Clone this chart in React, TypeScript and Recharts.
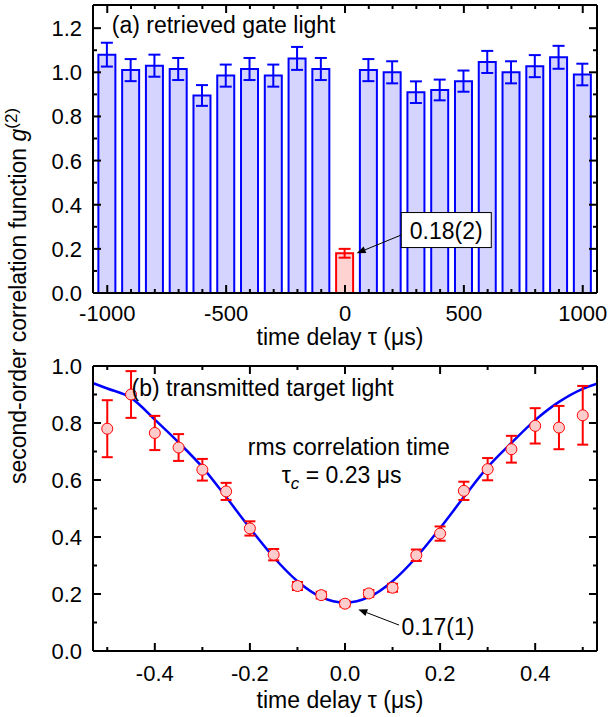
import React from 'react';
import {
  Bar,
  Cell,
  ComposedChart,
  ErrorBar,
  Line,
  ReferenceDot,
  ReferenceLine,
  Scatter,
  XAxis,
  YAxis,
} from 'recharts';

const FONT = '"Liberation Sans", Arial, sans-serif';
const BLUE = '#0000ff';
const RED = '#ff0000';

// (a) retrieved gate light
const gateDelays = [-1000, -900, -800, -700, -600, -500, -400, -300, -200, -100, 0, 100, 200, 300, 400, 500, 600, 700, 800, 900, 1000];
const gateG = [1.08, 1.01, 1.03, 1.015, 0.895, 0.985, 1.015, 0.985, 1.063, 1.015, 0.18, 1.01, 1.0, 0.91, 0.92, 0.96, 1.047, 1.0, 1.028, 1.068, 0.99];
const gateErr = [0.054, 0.05, 0.05, 0.05, 0.047, 0.05, 0.05, 0.05, 0.052, 0.05, 0.02, 0.05, 0.05, 0.049, 0.047, 0.048, 0.05, 0.05, 0.05, 0.052, 0.049];

// (b) transmitted target light
const targetTau = [-0.5, -0.45, -0.4, -0.35, -0.3, -0.25, -0.2, -0.15, -0.1, -0.05, 0, 0.05, 0.1, 0.15, 0.2, 0.25, 0.3, 0.35, 0.4, 0.45, 0.5];
const targetG = [0.78, 0.9, 0.765, 0.714, 0.636, 0.56, 0.43, 0.338, 0.228, 0.196, 0.166, 0.202, 0.222, 0.336, 0.412, 0.562, 0.638, 0.708, 0.79, 0.784, 0.827];
const targetErr = [0.1, 0.082, 0.06, 0.047, 0.038, 0.03, 0.025, 0.02, 0.014, 0.012, 0.01, 0.012, 0.014, 0.02, 0.025, 0.032, 0.039, 0.047, 0.062, 0.076, 0.103];

// fitted curve
const fitTau = [-0.53, -0.5, -0.45, -0.4, -0.35, -0.3, -0.25, -0.2, -0.15, -0.1, -0.05, 0, 0.05, 0.1, 0.15, 0.2, 0.25, 0.3, 0.35, 0.4, 0.45, 0.5, 0.53];
const fitG = [0.94, 0.921, 0.888, 0.812, 0.732, 0.645, 0.54, 0.431, 0.329, 0.245, 0.189, 0.17, 0.189, 0.245, 0.329, 0.431, 0.54, 0.645, 0.73, 0.81, 0.874, 0.92, 0.938];

// ticks
const gateXTicks = [-1000, -900, -800, -700, -600, -500, -400, -300, -200, -100, 0, 100, 200, 300, 400, 500, 600, 700, 800, 900, 1000];
const gateXLabels = [-1000, -500, 0, 500, 1000];
const gateYTicks = [0, 0.1, 0.2, 0.3, 0.4, 0.5, 0.6, 0.7, 0.8, 0.9, 1.0, 1.1, 1.2];
const gateYLabels = [0, 0.2, 0.4, 0.6, 0.8, 1.0, 1.2];
const targetXTicks = [-0.5, -0.4, -0.3, -0.2, -0.1, 0, 0.1, 0.2, 0.3, 0.4, 0.5];
const targetXLabels = [-0.4, -0.2, 0, 0.2, 0.4];
const targetYTicks = [0, 0.1, 0.2, 0.3, 0.4, 0.5, 0.6, 0.7, 0.8, 0.9, 1.0];
const targetYLabels = [0, 0.2, 0.4, 0.6, 0.8, 1.0];

const gateData = gateDelays.map((d, i) => ({
  delay: d,
  g: gateG[i],
  errBlue: d === 0 ? undefined : gateErr[i],
  errRed: d === 0 ? gateErr[i] : undefined,
}));
const targetData = targetTau.map((t, i) => ({ tau: t, g: targetG[i], err: targetErr[i] }));
const fitData = fitTau.map((t, i) => ({ tau: t, g: fitG[i] }));

type Side = 'bottom' | 'top' | 'left' | 'right';

const tickFor = (side: Side, labels: number[], fmt?: (v: number) => string, gap = 0) => (props: any) => {
  const { x, y, payload } = props;
  const v = Number(payload.value);
  const major = labels.some((l) => Math.abs(l - v) < 1e-6);
  const len = major ? 8 : 4;
  let x2 = x;
  let y2 = y;
  if (side === 'bottom') y2 = y - len;
  if (side === 'top') y2 = y + len;
  if (side === 'left') x2 = x + len;
  if (side === 'right') x2 = x - len;
  return (
    <g>
      <line x1={x} y1={y} x2={x2} y2={y2} stroke="#000" strokeWidth={2} />
      {major && fmt && side === 'bottom' && (
        <text x={x} y={y + gap} textAnchor="middle" fontSize={22} fontFamily={FONT} fill="#000">
          {fmt(v)}
        </text>
      )}
      {major && fmt && side === 'left' && (
        <text x={x - gap} y={y} dy="0.36em" textAnchor="end" fontSize={22} fontFamily={FONT} fill="#000">
          {fmt(v)}
        </text>
      )}
    </g>
  );
};

const Arrow = (p: any) => {
  const { x1, y1, x2, y2 } = p;
  const a = Math.atan2(y2 - y1, x2 - x1);
  const L = 9;
  const W = 3.5;
  const bx = x2 - L * Math.cos(a);
  const by = y2 - L * Math.sin(a);
  const pts = `${x2},${y2} ${bx + W * Math.sin(a)},${by - W * Math.cos(a)} ${bx - W * Math.sin(a)},${by + W * Math.cos(a)}`;
  return (
    <g>
      <line x1={x1} y1={y1} x2={bx} y2={by} stroke="#000" strokeWidth={1} />
      <polygon points={pts} fill="#000" />
    </g>
  );
};

const note = (content: React.ReactNode, anchor: 'start' | 'middle' = 'start') => (p: any) => (
  <text x={p.cx} y={p.cy} textAnchor={anchor} fontSize={23} fontFamily={FONT} fill="#000">
    {content}
  </text>
);

// boxed value label, centred on the point
const boxedNote = (content: string) => (p: any) => (
  <g>
    <rect x={p.cx - 45} y={p.cy - 18} width={90} height={35} fill="#fff" stroke="#000" strokeWidth={1} />
    <text x={p.cx} y={p.cy} dy="0.36em" textAnchor="middle" fontSize={23} fontFamily={FONT} fill="#000">
      {content}
    </text>
  </g>
);

const Dot = (p: any) => <circle cx={p.cx} cy={p.cy} r={5.5} fill="#ffcccc" stroke={RED} strokeWidth={1} />;

const frame = { stroke: '#000', strokeWidth: 2 };

const App = () => {
  return (
    <div style={{ position: 'absolute', left: 0, top: 0, width: 608, height: 717, background: '#fff' }}>
      <div style={{ position: 'absolute', left: 0, top: 0 }}>
        <ComposedChart width={608} height={340} data={gateData} margin={{ top: 4, right: 10, bottom: 46, left: 92 }}>
          <XAxis dataKey="delay" type="number" domain={[-1060, 1060]} allowDataOverflow ticks={gateXTicks} interval={0}
            height={1} tickSize={0} tickMargin={0} tickLine={false} axisLine={frame}
            tick={tickFor('bottom', gateXLabels, (v) => String(v), 28)} />
          <XAxis xAxisId="top" orientation="top" dataKey="delay" type="number" domain={[-1060, 1060]} allowDataOverflow
            ticks={gateXTicks} interval={0} height={1} tickSize={0} tickMargin={0} tickLine={false} axisLine={frame}
            tick={tickFor('top', gateXLabels)} />
          <YAxis type="number" domain={[0, 1.305]} allowDataOverflow ticks={gateYTicks} interval={0} width={1}
            tickSize={0} tickMargin={0} tickLine={false} axisLine={frame}
            tick={tickFor('left', gateYLabels, (v) => v.toFixed(1), 11)} />
          <YAxis yAxisId="right" orientation="right" type="number" domain={[0, 1.305]} allowDataOverflow ticks={gateYTicks}
            interval={0} width={1} tickSize={0} tickMargin={0} tickLine={false} axisLine={frame}
            tick={tickFor('right', gateYLabels)} />
          <Bar dataKey="g" barSize={17} strokeWidth={2} isAnimationActive={false}>
            {gateData.map((d) => (
              <Cell key={d.delay} fill={d.delay === 0 ? '#ffd2d2' : '#d4d4ff'} stroke={d.delay === 0 ? RED : BLUE} />
            ))}
            <ErrorBar dataKey="errBlue" width={6} stroke={BLUE} strokeWidth={2} />
            <ErrorBar dataKey="errRed" width={6} stroke={RED} strokeWidth={2} />
          </Bar>
          <ReferenceLine segment={[{ x: 237, y: 0.263 }, { x: 49, y: 0.18 }]} shape={Arrow} />
          <ReferenceDot x={426} y={0.283} r={0} shape={boxedNote('0.18(2)')} />
          <ReferenceDot x={-981} y={1.178} r={0} shape={note('(a) retrieved gate light')} />
        </ComposedChart>
      </div>
      <div style={{ position: 'absolute', left: 0, top: 340 }}>
        <ComposedChart width={608} height={377} data={fitData} margin={{ top: 25, right: 10, bottom: 65, left: 92 }}>
          <XAxis dataKey="tau" type="number" domain={[-0.53, 0.53]} allowDataOverflow ticks={targetXTicks} interval={0}
            height={1} tickSize={0} tickMargin={0} tickLine={false} axisLine={frame}
            tick={tickFor('bottom', targetXLabels, (v) => v.toFixed(1), 30)} />
          <XAxis xAxisId="top" orientation="top" dataKey="tau" type="number" domain={[-0.53, 0.53]} allowDataOverflow
            ticks={targetXTicks} interval={0} height={1} tickSize={0} tickMargin={0} tickLine={false} axisLine={frame}
            tick={tickFor('top', targetXLabels)} />
          <YAxis type="number" domain={[0, 1]} allowDataOverflow ticks={targetYTicks} interval={0} width={1}
            tickSize={0} tickMargin={0} tickLine={false} axisLine={frame}
            tick={tickFor('left', targetYLabels, (v) => v.toFixed(1), 11)} />
          <YAxis yAxisId="right" orientation="right" type="number" domain={[0, 1]} allowDataOverflow ticks={targetYTicks}
            interval={0} width={1} tickSize={0} tickMargin={0} tickLine={false} axisLine={frame}
            tick={tickFor('right', targetYLabels)} />
          <Line dataKey="g" type="monotone" stroke={BLUE} strokeWidth={2.5} dot={false} isAnimationActive={false} />
          <Scatter data={targetData} dataKey="g" shape={Dot} isAnimationActive={false}>
            <ErrorBar dataKey="err" direction="y" width={5.5} stroke={RED} strokeWidth={2} />
          </Scatter>
          <ReferenceLine segment={[{ x: 0.1136, y: 0.091 }, { x: 0.028, y: 0.146 }]} shape={Arrow} />
          <ReferenceDot x={0.119} y={0.056} r={0} shape={note('0.17(1)')} />
          <ReferenceDot x={-0.449} y={0.894} r={0} shape={note('(b) transmitted target light')} />
          <ReferenceDot x={0.008} y={0.687} r={0} shape={note('rms correlation time', 'middle')} />
          <ReferenceDot x={-0.133} y={0.589} r={0}
            shape={note(<>τ<tspan fontStyle="italic" fontSize={17} dy={6}>c</tspan><tspan dy={-6}> = 0.23 μs</tspan></>)} />
        </ComposedChart>
      </div>
      <svg width={608} height={717} style={{ position: 'absolute', left: 0, top: 0, pointerEvents: 'none' }}>
        <text transform="translate(26,296) rotate(-90)" textAnchor="middle" fontSize={23} fontFamily={FONT} fill="#000">
          second-order correlation function <tspan fontStyle="italic">g</tspan>
          <tspan dy={-9} fontSize={17}>(2)</tspan>
        </text>
        <text x={340} y={345} textAnchor="middle" fontSize={23} fontFamily={FONT} fill="#000">time delay τ (μs)</text>
        <text x={340} y={708} textAnchor="middle" fontSize={23} fontFamily={FONT} fill="#000">time delay τ (μs)</text>
      </svg>
    </div>
  );
};

export default App;
